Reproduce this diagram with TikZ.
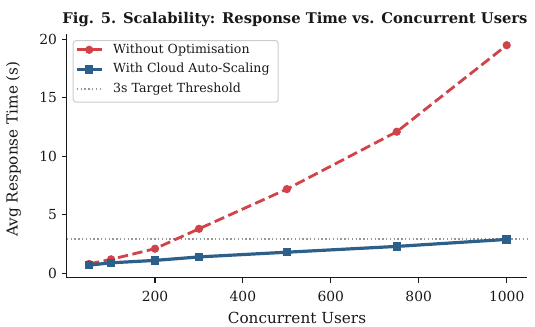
\documentclass[tikz,border=0pt]{standalone}
\usepackage{fontspec}
\setmainfont{DejaVu Serif}
\usetikzlibrary{calc}
\definecolor{myred}{RGB}{209,67,72}
\definecolor{myblue}{RGB}{44,95,138}
\definecolor{ink}{RGB}{25,25,25}
\definecolor{thr}{RGB}{150,150,150}
\definecolor{legbd}{RGB}{204,204,204}
\tikzset{
  spine/.style={draw=ink, line width=1.1bp},
  tickmark/.style={draw=ink, line width=1.1bp},
  ticklab/.style={font=\fontsize{13.9}{16}\selectfont, text=ink, inner sep=0pt},
  axlab/.style={font=\fontsize{15.3}{18}\selectfont, text=ink, inner sep=0pt},
  titlelab/.style={font=\fontsize{14.8}{18}\selectfont\bfseries, text=ink, inner sep=0pt},
  leglab/.style={font=\fontsize{12.6}{15}\selectfont, text=ink, inner sep=0pt, anchor=west},
  rline/.style={draw=myred, line width=2.8bp, dash pattern=on 10.3bp off 4.5bp},
  bline/.style={draw=myblue, line width=3.2bp},
  rdot/.style={circle, fill=myred, minimum size=8.3bp, inner sep=0pt},
  bsq/.style={rectangle, fill=myblue, minimum size=8.5bp, inner sep=0pt},
  thrline/.style={draw=thr, line width=1.4bp, dash pattern=on 1.4bp off 2.4bp},
  legbox/.style={draw=legbd, fill=white, fill opacity=0.8, draw opacity=1, line width=1bp, rounded corners=3bp}
}
\begin{document}
\begin{tikzpicture}[x=1bp,y=-1bp]
\useasboundingbox (0,0) rectangle (535,326);
% data points
\coordinate (r1) at (89.1,263.9);
\coordinate (r2) at (111.1,259.3);
\coordinate (r3) at (155.0,248.7);
\coordinate (r4) at (199.0,228.8);
\coordinate (r5) at (286.9,189.1);
\coordinate (r6) at (396.8,131.7);
\coordinate (r7) at (506.7,45.2);
\coordinate (b1) at (89.1,265.1);
\coordinate (b2) at (111.1,262.8);
\coordinate (b3) at (155.0,260.4);
\coordinate (b4) at (199.0,256.9);
\coordinate (b5) at (286.9,252.2);
\coordinate (b6) at (396.8,246.4);
\coordinate (b7) at (506.7,239.4);
% threshold
\coordinate (tl) at (66.7,238.8);
\coordinate (tr) at (527.3,238.8);
\draw[thrline] (tl) -- (tr);
% red series
\draw[rline] (r1) -- (r2) -- (r3) -- (r4) -- (r5) -- (r6) -- (r7);
\foreach \i in {1,...,7} { \node[rdot] (rm\i) at (r\i) {}; }
% blue series
\draw[bline] (b1) -- (b2) -- (b3) -- (b4) -- (b5) -- (b6) -- (b7);
\foreach \i in {1,...,7} { \node[bsq] (bm\i) at (b\i) {}; }
% spines
\coordinate (o) at (66.7,277.7);
\coordinate (ytop) at (66.7,33.8);
\coordinate (xend) at (527.3,277.7);
\draw[spine] (ytop) -- (o) -- (xend);
% y ticks
\foreach \v/\py in {0/273.3,5/214.8,10/156.3,15/97.8,20/39.3} {
  \draw[tickmark] (66.7,\py) -- ++(-4.9,0);
  \node[ticklab, anchor=east] (yt\v) at (57.2,\py) {\v};
}
% x ticks
\foreach \v/\px in {200/155.0,400/242.9,600/330.8,800/418.7,1000/506.7} {
  \draw[tickmark] (\px,277.7) -- ++(0,4.9);
  \node[ticklab] (xt\v) at (\px,296.6) {\v};
}
% axis labels and title
\node[axlab] (xlabel) at (297,317.5) {Concurrent Users};
\node[axlab, rotate=90] (ylabel) at (13.5,149) {Avg Response Time (s)};
\node[titlelab, anchor=base] (title) at (295,23) {Fig. 5. Scalability: Response Time vs. Concurrent Users};
% legend
\node[legbox, minimum width=205bp, minimum height=61.7bp, anchor=north west] (leg) at (72.7,40) {};
\coordinate (h1a) at (76.7,49.8);
\coordinate (h1b) at (101.7,49.8);
\coordinate (h2a) at (76.7,69.3);
\coordinate (h2b) at (101.7,69.3);
\coordinate (h3a) at (76.7,88.8);
\coordinate (h3b) at (101.7,88.8);
\draw[draw=myred, line width=2.8bp] (h1a) -- (h1b);
\node[rdot] (lm1) at ($(h1a)!0.5!(h1b)$) {};
\draw[bline] (h2a) -- (h2b);
\node[bsq] (lm2) at ($(h2a)!0.5!(h2b)$) {};
\draw[thrline] (h3a) -- (h3b);
\node[leglab] (l1) at (113,49.8) {Without Optimisation};
\node[leglab] (l2) at (113,69.3) {With Cloud Auto-Scaling};
\node[leglab] (l3) at (113,88.8) {3s Target Threshold};
\end{tikzpicture}
\end{document}
